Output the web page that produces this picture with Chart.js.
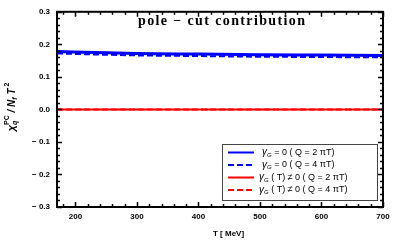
<!DOCTYPE html>
<html><head><meta charset="utf-8">
<script src="https://cdn.jsdelivr.net/npm/chart.js@4.4.0/dist/chart.umd.min.js"></script>
<style>html,body{margin:0;padding:0;background:#fff}#wrap{width:399px;height:249px}</style>
</head><body><div id="wrap"><canvas id="c" width="399" height="249"></canvas></div>
<script>
// ---- data ----
const temps      = [170, 250, 300, 400, 500, 600, 700];
const blueSolid  = [0.178, 0.174, 0.172, 0.170, 0.168, 0.167, 0.166];
const blueDashed = [0.172, 0.168, 0.166, 0.164, 0.162, 0.161, 0.160];
const redSolid   = [0, 0, 0, 0, 0, 0, 0];
const redDashed  = [0, 0, 0, 0, 0, 0, 0];
const xTicks = [200, 300, 400, 500, 600, 700];
const yTicks = [-0.3, -0.2, -0.1, 0.0, 0.1, 0.2, 0.3];
const seriesLabels = [
  "γ_G = 0 ( Q = 2 πT)",
  "γ_G = 0 ( Q = 4 πT)",
  "γ_G ( T) ≠ 0 ( Q = 2 πT)",
  "γ_G ( T) ≠ 0 ( Q = 4 πT)"
];
const titleText = "pole − cut contribution";
const xTitle = "T [ MeV]";

const pts = ys => temps.map((t, i) => ({x: t, y: ys[i]}));

const framePlugin = {
  id: 'frame',
  afterDraw(chart) {
    const ctx = chart.ctx, a = chart.chartArea;
    const xs = chart.scales.x, ys = chart.scales.y;
    ctx.save();
    ctx.strokeStyle = '#000';
    ctx.lineWidth = 1.5;
    const tickX = (v, len) => {
      const p = Math.round(xs.getPixelForValue(v)) + 0.5;
      ctx.beginPath();
      ctx.moveTo(p, a.bottom); ctx.lineTo(p, a.bottom - len);
      ctx.moveTo(p, a.top); ctx.lineTo(p, a.top + len);
      ctx.stroke();
    };
    const tickY = (v, len) => {
      const p = Math.round(ys.getPixelForValue(v)) + 0.5;
      ctx.beginPath();
      ctx.moveTo(a.left, p); ctx.lineTo(a.left + len, p);
      ctx.moveTo(a.right, p); ctx.lineTo(a.right - len, p);
      ctx.stroke();
    };
    for (let v = 180; v <= 700; v += 20) {
      tickX(v, xTicks.includes(v) ? 5 : 3);
    }
    for (let k = -15; k <= 15; k++) {
      tickY(k * 0.02, k % 5 === 0 ? 5 : 3);
    }
    ctx.lineWidth = 2;
    ctx.strokeRect(a.left, a.top, a.right - a.left, a.bottom - a.top);

    // title
    ctx.fillStyle = '#000';
    ctx.font = 'bold 14px "Liberation Serif"';
    ctx.textBaseline = 'alphabetic';
    ctx.textAlign = 'left';
    const w0 = ctx.measureText(titleText).width;
    const ls = (167 - w0) / (titleText.length - 1);
    ctx.letterSpacing = ls + 'px';
    ctx.fillText(titleText, 138, 25);
    ctx.letterSpacing = '0px';

    // x axis title
    ctx.font = 'bold 8px "Liberation Sans"';
    ctx.textAlign = 'left';
    ctx.textBaseline = 'middle';
    ctx.fillText(xTitle, 213, 234);

    // y axis title (rotated)
    ctx.save();
    ctx.translate(12, 107);
    ctx.rotate(-Math.PI / 2);
    const parts = [
      {t: 'χ', f: 'italic bold 11px "Liberation Sans"', dy: 0},
      {t: 'q', f: 'italic bold 7px "Liberation Sans"', dy: 2},
      {t: 'PC', f: 'bold 7px "Liberation Sans"', dy: -6},
      {t: ' / N', f: 'italic bold 10px "Liberation Sans"', dy: 0},
      {t: 'f', f: 'italic bold 7px "Liberation Sans"', dy: 2},
      {t: ' T', f: 'italic bold 10px "Liberation Sans"', dy: 0},
      {t: ' 2', f: 'bold 7px "Liberation Sans"', dy: -6}
    ];
    const widths = parts.map(p => { ctx.font = p.f; return ctx.measureText(p.t).width; });
    const total = widths[0] + Math.max(widths[1], widths[2]) + widths[3] + widths[4] + widths[5] + widths[6];
    let x = -total / 2;
    ctx.textAlign = 'left'; ctx.textBaseline = 'alphabetic';
    ctx.font = parts[0].f; ctx.fillText(parts[0].t, x, 3); x += widths[0];
    ctx.font = parts[1].f; ctx.fillText(parts[1].t, x, 3 + parts[1].dy);
    ctx.font = parts[2].f; ctx.fillText(parts[2].t, x, 3 + parts[2].dy);
    x += Math.max(widths[1], widths[2]);
    for (let i = 3; i < parts.length; i++) {
      ctx.font = parts[i].f; ctx.fillText(parts[i].t, x, 3 + parts[i].dy); x += widths[i];
    }
    ctx.restore();

    // legend
    const L = {left: 222, top: 144, right: 377, bottom: 200};
    ctx.fillStyle = '#fff';
    ctx.fillRect(L.left, L.top, L.right - L.left, L.bottom - L.top);
    ctx.strokeStyle = '#444';
    ctx.lineWidth = 1;
    ctx.strokeRect(L.left + 0.5, L.top + 0.5, L.right - L.left, L.bottom - L.top);
    const rowY = [152.5, 165, 177.5, 190];
    chart.data.datasets.forEach((ds, i) => {
      const y = rowY[i];
      ctx.strokeStyle = ds.borderColor;
      ctx.lineWidth = 2;
      ctx.setLineDash(ds.borderDash || []);
      ctx.beginPath(); ctx.moveTo(228, y); ctx.lineTo(254, y); ctx.stroke();
      ctx.setLineDash([]);
      ctx.fillStyle = '#000';
      ctx.textBaseline = 'middle';
      let tx = i < 2 ? 262 : 259;
      const m = ds.label.match(/^(γ)_(G)(.*)$/);
      ctx.font = 'italic 10px "Liberation Sans"';
      ctx.fillText(m[1], tx, y); tx += ctx.measureText(m[1]).width;
      ctx.font = 'italic 6px "Liberation Sans"';
      ctx.fillText(m[2], tx, y + 2.5); tx += ctx.measureText(m[2]).width;
      ctx.font = '9px "Liberation Sans"';
      ctx.fillText(m[3], tx, y);
    });
    ctx.restore();
  }
};

new Chart(document.getElementById('c'), {
  type: 'line',
  data: {
    datasets: [
      {label: seriesLabels[0], data: pts(blueSolid), borderColor: '#0000ff', borderWidth: 3, pointRadius: 0, cubicInterpolationMode: 'monotone'},
      {label: seriesLabels[1], data: pts(blueDashed), borderColor: '#0000ff', borderWidth: 2, borderDash: [6, 3], pointRadius: 0, cubicInterpolationMode: 'monotone'},
      {label: seriesLabels[2], data: pts(redSolid), borderColor: '#ff0000', borderWidth: 2, pointRadius: 0},
      {label: seriesLabels[3], data: pts(redDashed), borderColor: '#ff0000', borderWidth: 2, borderDash: [6, 3], pointRadius: 0}
    ]
  },
  options: {
    responsive: false,
    animation: false,
    devicePixelRatio: 1,
    layout: {padding: {left: 0, right: 16, top: 5, bottom: 0}},
    plugins: {legend: {display: false}, tooltip: {enabled: false}, title: {display: false}},
    scales: {
      x: {
        type: 'linear', min: 170, max: 700,
        grid: {display: false, drawTicks: false},
        border: {display: false},
        ticks: {font: {family: 'Liberation Sans', size: 8, weight: 'bold'}, color: '#000', padding: 5, maxRotation: 0},
        afterBuildTicks: s => { s.ticks = xTicks.map(v => ({value: v})); },
        afterFit: s => { s.height = 42; }
      },
      y: {
        type: 'linear', min: -0.3, max: 0.3,
        grid: {display: false, drawTicks: false},
        border: {display: false},
        ticks: {font: {family: 'Liberation Sans', size: 8, weight: 'bold'}, color: '#000', padding: 7,
          callback: v => { const r = Math.round(v * 10) / 10; return r < 0 ? '− ' + Math.abs(r).toFixed(1) : r.toFixed(1); }},
        afterBuildTicks: s => { s.ticks = yTicks.map(v => ({value: v})); },
        afterFit: s => { s.width = 57; }
      }
    }
  },
  plugins: [framePlugin]
});
</script>
</body></html>
